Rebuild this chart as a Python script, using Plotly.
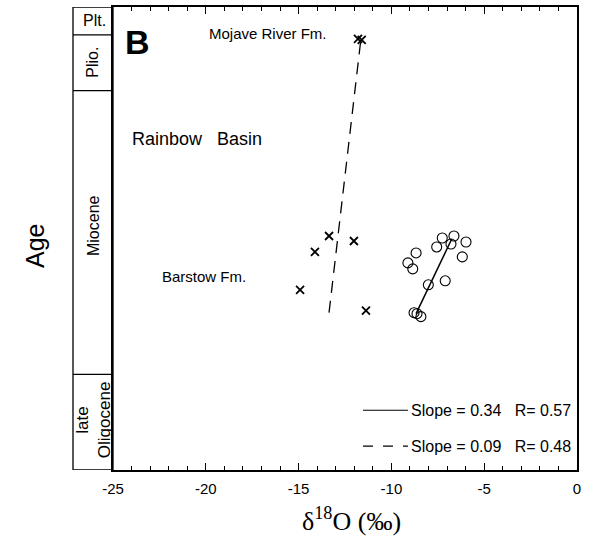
import plotly.graph_objects as go

# ---- data ----
# delta18O (per mil) and relative stratigraphic position (arbitrary units, 0 = base)
barstow_x = [-13.36, -12.02, -14.12, -14.92, -11.37]
barstow_y = [235, 230, 219, 181, 160]
mojave_x = [-11.8, -11.6]
mojave_y = [433, 432]
rb_x = [-7.26, -6.63, -6.79, -5.98, -7.56, -8.67, -6.18, -9.11, -8.85, -8.01, -7.10, -8.78, -8.62, -8.41]
rb_y = [233, 235, 227, 229, 224, 218, 214, 208, 202, 186, 190, 158, 157, 154]
fit_solid_x = [-8.67, -6.75]
fit_solid_y = [157, 232]
fit_dash_x = [-13.36, -11.66]
fit_dash_y = [158, 430]

epoch_bounds = [0, 96, 381, 437, 465]
epoch_labels = ["late<br>Oligocene", "Miocene", "Plio.", "Plt."]
epoch_label_y = [50, 245, 409, 451]

x_ticks = [-25, -20, -15, -10, -5, 0]
x_ticklabels = ["-25", "-20", "-15", "-10", "-5", "0"]
x_range = [-25, 0]
y_range = [0, 465]

FONT = "Liberation Sans, Arial, sans-serif"

fig = go.Figure()
fig.add_trace(go.Scatter(x=fit_dash_x, y=fit_dash_y, mode="lines",
                         line=dict(color="black", width=1.3, dash="12px,8px"), showlegend=False))
fig.add_trace(go.Scatter(x=fit_solid_x, y=fit_solid_y, mode="lines",
                         line=dict(color="black", width=1.5), showlegend=False))
fig.add_trace(go.Scatter(x=barstow_x + mojave_x, y=barstow_y + mojave_y, mode="markers",
                         marker=dict(symbol="x-thin-open", size=8, color="black",
                                     line=dict(color="black", width=1.8)),
                         showlegend=False))
fig.add_trace(go.Scatter(x=rb_x, y=rb_y, mode="markers",
                         marker=dict(symbol="circle-open", size=10, color="black",
                                     line=dict(color="black", width=1.1)),
                         showlegend=False))

# legend lines (drawn in data coords)
leg_x = [-11.53, -9.11]
fig.add_trace(go.Scatter(x=leg_x, y=[60, 60], mode="lines", line=dict(color="black", width=1.2), showlegend=False))
fig.add_trace(go.Scatter(x=leg_x, y=[24, 24], mode="lines", line=dict(color="black", width=1.2, dash="10px,10px"), showlegend=False))

shapes = []
colx0 = -40 / 464
# epoch column
shapes.append(dict(type="rect", xref="paper", yref="y", x0=colx0, x1=0, y0=y_range[0], y1=y_range[1],
                   line=dict(color="black", width=1.3)))
for b in epoch_bounds[1:-1]:
    shapes.append(dict(type="line", xref="paper", yref="y", x0=colx0, x1=0, y0=b, y1=b,
                       line=dict(color="black", width=1.3)))

ann = []
for lab, yc in zip(epoch_labels, epoch_label_y):
    ang = 0 if lab == "Plt." else -90
    size = 16
    if lab.startswith("late"):
        size = 17
    ann.append(dict(text=lab, xref="paper", yref="y", x=colx0 / 2 + (0.004 if lab == "Plt." else 0),
                    y=yc, showarrow=False, xanchor="center", yanchor="middle",
                    textangle=ang, font=dict(family=FONT, size=size, color="black")))

ann += [
    dict(text="<b>B</b>", x=-23.7, y=430, showarrow=False, xanchor="center",
         font=dict(family=FONT, size=34, color="black")),
    dict(text="Mojave River Fm.", x=-16.65, y=438, showarrow=False, xanchor="center",
         font=dict(family=FONT, size=15, color="black")),
    dict(text="Rainbow&nbsp;&nbsp;&nbsp;Basin", x=-20.45, y=332, showarrow=False, xanchor="center",
         font=dict(family=FONT, size=18, color="black")),
    dict(text="Barstow Fm.", x=-20.1, y=194, showarrow=False, xanchor="center",
         font=dict(family=FONT, size=15, color="black")),
    dict(text="Slope = 0.34&nbsp;&nbsp;&nbsp;R= 0.57", x=-9.05, y=60, xanchor="left", showarrow=False,
         font=dict(family=FONT, size=16, color="black")),
    dict(text="Slope = 0.09&nbsp;&nbsp;&nbsp;R= 0.48", x=-9.05, y=24, xanchor="left", showarrow=False,
         font=dict(family=FONT, size=16, color="black")),
    dict(text="Age", xref="paper", yref="paper", x=(35 - 113) / 464, y=(470 - 245) / 465, showarrow=False,
         xanchor="center", yanchor="middle",
         textangle=-90, font=dict(family=FONT, size=25, color="black")),
    dict(text="δ<sup>18</sup>O (‰)", xref="paper", yref="paper", x=(351 - 113) / 464, y=(470 - 520) / 465,
         showarrow=False, xanchor="center", yanchor="middle",
         font=dict(family="Liberation Serif, Times New Roman, serif", size=26, color="black")),
]

fig.update_layout(
    width=589, height=546,
    margin=dict(l=113, r=12, t=5, b=76),
    paper_bgcolor="white", plot_bgcolor="white",
    shapes=shapes, annotations=ann,
    xaxis=dict(range=x_range, tickvals=x_ticks, ticktext=x_ticklabels,
               ticks="inside", ticklen=7, tickwidth=1.2, tickcolor="black",
               minor=dict(dtick=1, ticks="inside", ticklen=4, tickwidth=1, tickcolor="black"),
               showline=True, linecolor="black", linewidth=1.5, mirror="allticks",
               showgrid=False, zeroline=False, ticklabelstandoff=4,
               tickfont=dict(family=FONT, size=15, color="black")),
    yaxis=dict(range=y_range, showline=True, linecolor="black", linewidth=1.5, mirror=True,
               showticklabels=False, ticks="", showgrid=False, zeroline=False),
)

fig.write_html("out.html")
